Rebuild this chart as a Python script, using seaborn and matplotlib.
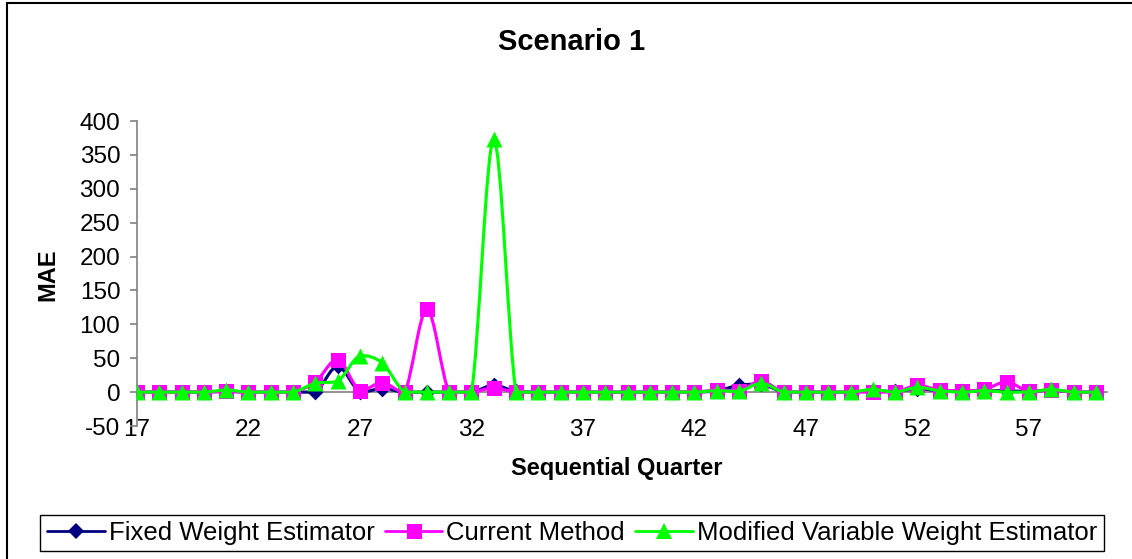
import numpy as np
import pandas as pd
import matplotlib
matplotlib.use("Agg")
import matplotlib.pyplot as plt
import seaborn as sns
from matplotlib.path import Path
from matplotlib.patches import PathPatch, Rectangle
from matplotlib.lines import Line2D

# Mean absolute error per sequential quarter, three estimators
quarters = list(range(17, 61))
fixed_weight = [0, 0, 0, 0, 1, 0, 0, 0, 0, 38, 0, 5, 0, 0, 0, 0, 10, 1,
                0, 0, 0, 0, 0, 0, 0, 0, 2, 10, 12, 0, 0, 0, 0, 2, 1, 5,
                2, 1, 2, 2, 1, 3, 0, 0]
current_method = [0, 0, 0, 0, 1, 0, 0, 0, 15, 48, 2, 14, 0, 122, 0, 0, 6, 0,
                  0, 0, 0, 0, 0, 0, 0, 0, 3, 2, 16, 0, 0, 0, 0, 0, 0, 10,
                  3, 2, 4, 15, 1, 3, 0, 0]
modified_variable = [0, 0, 0, 0, 3, 0, 0, 0, 13, 16, 54, 43, 0, 0, 0, 0, 373, 0,
                     0, 0, 0, 0, 0, 0, 0, 0, 2, 1, 13, 0, 0, 0, 0, 4, 0, 7,
                     2, 0, 2, 0, 0, 4, 0, 0]

series_names = ["Fixed Weight Estimator", "Current Method",
                "Modified Variable Weight Estimator"]
x_ticks = [17, 22, 27, 32, 37, 42, 47, 52, 57]
y_ticks = [-50, 0, 50, 100, 150, 200, 250, 300, 350, 400]

df = pd.DataFrame({
    "quarter": quarters * 3,
    "mae": fixed_weight + current_method + modified_variable,
    "series": sum([[n] * len(quarters) for n in series_names], []),
})

sns.set_theme(style="white")
plt.rcParams["font.family"] = ["Liberation Sans", "DejaVu Sans"]
plt.rcParams["axes.unicode_minus"] = False
plt.rcParams["text.color"] = "black"
plt.rcParams["axes.labelcolor"] = "black"
plt.rcParams["xtick.color"] = "black"
plt.rcParams["ytick.color"] = "black"

styles = {
    "Fixed Weight Estimator": dict(color="#000080", marker="D", size=8),
    "Current Method": dict(color="#FF00FF", marker="s", size=10.8),
    "Modified Variable Weight Estimator": dict(color="#00FF00", marker="^", size=11.5),
}


def smooth_path(x, y):
    """Cubic Bezier path through the points; handles are kept inside each
    segment's value range so the curve does not overshoot."""
    x = np.asarray(x, float)
    y = np.asarray(y, float)
    n = len(x)
    verts = [(x[0], y[0])]
    codes = [Path.MOVETO]
    for i in range(n - 1):
        a = i - 1 if i > 0 else i
        d = i + 2 if i + 2 < n else i + 1
        lo, hi = min(y[i], y[i + 1]), max(y[i], y[i + 1])
        pad = 0.04 * (hi - lo)
        c1y = np.clip(y[i] + (y[i + 1] - y[a]) / 6.0, lo - pad, hi + pad)
        c2y = np.clip(y[i + 1] - (y[d] - y[i]) / 6.0, lo - pad, hi + pad)
        c1 = (x[i] + (x[i + 1] - x[a]) / 6.0, c1y)
        c2 = (x[i + 1] - (x[d] - x[i]) / 6.0, c2y)
        verts += [c1, c2, (x[i + 1], y[i + 1])]
        codes += [Path.CURVE4] * 3
    return Path(verts, codes)


fig = plt.figure(figsize=(11.32, 5.59), dpi=100)
ax = fig.add_axes([0.1210, 0.2379, 0.8569, 0.5456])

handles = []
for k, name in enumerate(series_names):
    st = styles[name]
    sub = df[df["series"] == name]
    z = 2 + 2 * k
    ax.add_patch(PathPatch(smooth_path(sub["quarter"], sub["mae"]),
                           facecolor="none", edgecolor=st["color"], lw=2.25,
                           zorder=z, capstyle="round", joinstyle="round"))
    sns.scatterplot(x=sub["quarter"], y=sub["mae"], marker=st["marker"],
                    s=st["size"] ** 2, color=st["color"], edgecolor=st["color"],
                    linewidth=0, ax=ax, zorder=z + 1, legend=False)
    handles.append(Line2D([], [], color=st["color"], lw=2.0, marker=st["marker"],
                          markersize=st["size"], markeredgewidth=0, label=name))

ax.set_xlim(17, 60.5)
ax.set_ylim(-50, 400)
ax.set_xticks(x_ticks)
ax.set_yticks(y_ticks)

for side in ["top", "right"]:
    ax.spines[side].set_visible(False)
ax.spines["bottom"].set_position(("data", 0))
ax.spines["bottom"].set_color("#808080")
ax.spines["left"].set_color("#808080")
ax.spines["bottom"].set_linewidth(1.2)
ax.spines["left"].set_linewidth(1.2)
ax.spines["bottom"].set_zorder(1)

ax.tick_params(axis="y", direction="out", length=5, width=1.2, color="#808080",
               labelcolor="black", labelsize=17.5, pad=7, left=True)
ax.tick_params(axis="x", direction="out", length=3, width=1.2, color="#808080",
               labelcolor="black", labelsize=17.5, pad=16.5, bottom=True)

ax.set_ylabel("MAE", fontsize=17, fontweight="bold", color="black")
ax.yaxis.set_label_coords(-0.0918, 0.495)
ax.set_xlabel("Sequential Quarter", fontsize=17, fontweight="bold", color="black")
ax.xaxis.set_label_coords(0.4948, -0.1377)
ax.xaxis.label.set_va("center")
ax.yaxis.label.set_va("center")

fig.text(0.5053, 0.9249, "Scenario 1", fontsize=21, fontweight="bold",
         ha="center", va="center", color="black")

leg = fig.legend(handles=handles, loc="center", bbox_to_anchor=(0.5053, 0.0465),
                 ncol=3, fontsize=18.5, frameon=True, fancybox=False,
                 edgecolor="black", framealpha=1, handlelength=2.25,
                 handletextpad=0.15, columnspacing=0.4, borderpad=0.25,
                 borderaxespad=0)
leg.get_frame().set_linewidth(1.0)
for t in leg.get_texts():
    t.set_color("black")

# Chart-area border
fig.patches.append(Rectangle((7 / 1132, -0.1), 1.2, 1.1 - 3 / 559,
                             transform=fig.transFigure, fill=False,
                             edgecolor="black", lw=1.5))

fig.savefig("out.png", dpi=100)
